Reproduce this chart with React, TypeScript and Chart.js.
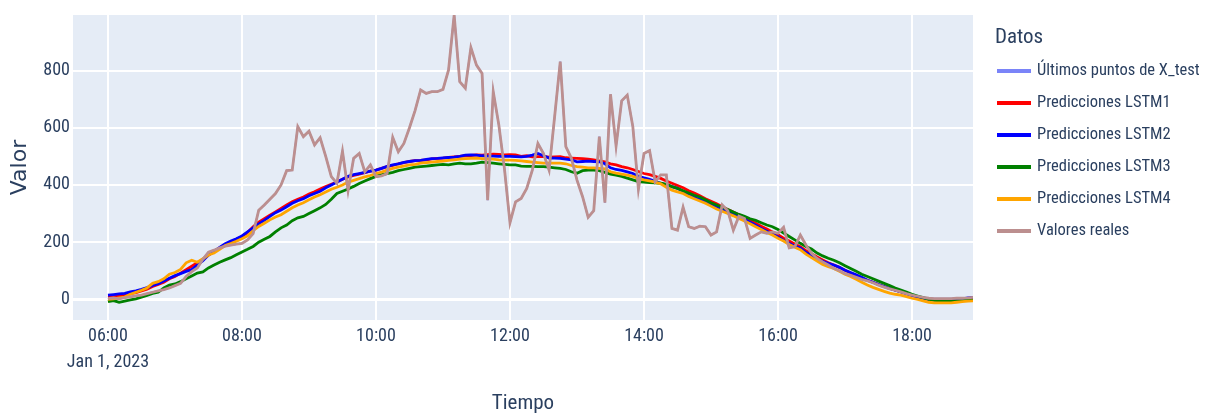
import React, { useEffect, useRef } from "react";
import { Chart, registerables } from "chart.js";

Chart.register(...registerables);

// Time axis: minutes after midnight, 5-minute samples starting 06:00 (Jan 1, 2023)
const startMinute = 360;
const stepMinutes = 5;

const realValues = [
  3, 5, 2, 6, 9, 12, 15, 20, 25, 30,
  34, 40, 48, 56, 80, 97, 110, 140, 165, 172,
  180, 186, 190, 193, 196, 208, 230, 312, 330, 350,
  370, 400, 450, 452, 604, 569, 588, 540, 565, 500,
  429, 406, 518, 380, 493, 510, 446, 470, 429, 432,
  440, 566, 516, 545, 600, 660, 732, 720, 726, 726,
  734, 802, 994, 761, 738, 880, 819, 790, 347, 726,
  610, 458, 268, 341, 353, 388, 452, 545, 510, 452,
  640, 831, 534, 493, 417, 359, 287, 310, 569, 338,
  717, 536, 694, 714, 604, 385, 510, 520, 411, 435,
  435, 248, 242, 322, 254, 248, 256, 254, 225, 236,
  330, 310, 242, 291, 283, 213, 225, 236, 231, 236,
  231, 252, 180, 184, 225, 190, 161, 143, 131, 120,
  108, 100, 90, 84, 77, 70, 65, 58, 50, 43,
  37, 32, 26, 20, 15, 11, 7, 4, 3, 3,
  3, 3, 4, 4, 5, 7,
];

const xTestValues = realValues;

const lstm1Values = [
  8, 10, 12, 14, 20, 24, 30, 36, 45, 52,
  60, 72, 80, 92, 104, 116, 128, 140, 155, 168,
  180, 190, 198, 210, 220, 234, 254, 270, 282, 294,
  306, 318, 330, 341, 350, 358, 368, 376, 386, 394,
  402, 410, 420, 428, 433, 438, 443, 448, 452, 458,
  464, 468, 474, 478, 482, 485, 486, 488, 491, 493,
  494, 496, 498, 500, 502, 503, 505, 504, 506, 508,
  507, 505, 506, 505, 500, 502, 498, 499, 500, 497,
  498, 499, 495, 494, 493, 492, 490, 488, 484, 481,
  474, 470, 464, 460, 454, 447, 440, 436, 430, 423,
  414, 406, 398, 390, 380, 372, 362, 352, 343, 334,
  324, 314, 305, 296, 286, 276, 266, 256, 246, 236,
  226, 214, 204, 194, 184, 170, 160, 148, 138, 128,
  120, 112, 102, 92, 84, 75, 67, 60, 52, 45,
  38, 32, 27, 20, 14, 9, 4, 0, -2, -2,
  -2, -2, -1, 1, 3, 5,
];

const lstm2Values = [
  15, 17, 19, 21, 26, 30, 35, 41, 49, 55,
  64, 74, 83, 90, 98, 104, 120, 135, 155, 168,
  182, 195, 204, 212, 222, 236, 250, 264, 276, 290,
  303, 312, 324, 336, 345, 352, 362, 370, 378, 390,
  400, 410, 420, 430, 436, 440, 444, 448, 452, 458,
  465, 470, 474, 479, 482, 485, 486, 489, 492, 493,
  495, 496, 497, 500, 504, 505, 504, 502, 501, 501,
  500, 500, 500, 499, 498, 500, 504, 510, 502, 494,
  494, 493, 490, 488, 481, 482, 483, 482, 481, 474,
  460, 454, 451, 446, 440, 430, 425, 420, 413, 406,
  400, 394, 388, 378, 368, 356, 350, 342, 334, 325,
  315, 306, 298, 289, 280, 270, 259, 248, 238, 228,
  218, 206, 196, 186, 180, 164, 154, 142, 133, 126,
  120, 112, 102, 94, 86, 77, 67, 60, 52, 45,
  38, 32, 26, 20, 14, 9, 4, 0, -2, -2,
  -2, -2, -1, 2, 5, 7,
];

const lstm3Values = [
  -8, -4, -10, -6, -2, 2, 8, 14, 21, 25,
  40, 50, 54, 62, 72, 82, 92, 96, 110, 120,
  130, 138, 146, 156, 166, 175, 185, 200, 210, 220,
  236, 250, 260, 275, 285, 290, 300, 310, 320, 332,
  350, 370, 378, 386, 395, 405, 414, 422, 430, 436,
  440, 444, 450, 454, 458, 462, 464, 466, 468, 470,
  472, 470, 474, 476, 474, 474, 476, 480, 478, 476,
  474, 472, 470, 470, 466, 465, 465, 464, 464, 462,
  460, 458, 454, 446, 441, 450, 452, 452, 450, 444,
  438, 434, 430, 424, 418, 412, 410, 408, 407, 406,
  402, 394, 388, 380, 372, 364, 358, 348, 338, 330,
  322, 314, 305, 297, 290, 282, 276, 268, 260, 254,
  244, 232, 220, 208, 196, 185, 176, 162, 152, 144,
  137, 128, 118, 108, 98, 88, 80, 72, 64, 56,
  48, 40, 33, 26, 18, 12, 6, 0, -3, -5,
  -5, -6, -5, -4, -3, -3,
];

const lstm4Values = [
  0, 2, 5, 8, 18, 25, 32, 40, 56, 62,
  72, 88, 94, 105, 128, 137, 130, 142, 155, 162,
  175, 188, 195, 203, 212, 222, 240, 255, 266, 278,
  288, 296, 308, 320, 330, 338, 348, 358, 366, 375,
  385, 392, 400, 410, 416, 422, 428, 433, 440, 445,
  452, 458, 462, 466, 470, 472, 476, 478, 480, 482,
  483, 486, 488, 490, 492, 493, 494, 492, 490, 490,
  488, 487, 487, 486, 484, 482, 480, 478, 476, 476,
  476, 476, 474, 468, 464, 462, 460, 460, 458, 456,
  446, 441, 438, 434, 430, 423, 418, 414, 410, 404,
  392, 382, 376, 370, 360, 352, 344, 336, 326, 316,
  308, 300, 292, 283, 274, 264, 254, 244, 234, 225,
  214, 204, 192, 182, 174, 158, 146, 134, 122, 114,
  108, 98, 88, 80, 70, 60, 50, 42, 35, 28,
  22, 18, 15, 10, 4, 0, -5, -10, -12, -12,
  -12, -12, -10, -8, -6, -5,
];

const seriesLabels = [
  "Últimos puntos de X_test",
  "Predicciones LSTM1",
  "Predicciones LSTM2",
  "Predicciones LSTM3",
  "Predicciones LSTM4",
  "Valores reales",
];
const seriesColors = ["#7a84f8", "#ff0000", "#0000ff", "#008000", "#ffa500", "#bc8f8f"];
const seriesWidths = [1.8, 2.8, 2.8, 2.8, 2.8, 2.8];

const xTickValues = [360, 480, 600, 720, 840, 960, 1080];
const xTickLabels = ["06:00", "08:00", "10:00", "12:00", "14:00", "16:00", "18:00"];
const dateLabel = "Jan 1, 2023";
const yTickValues = [0, 200, 400, 600, 800];

const xMin = 328.7;
const xMax = 1134.6;
const yMin = -72;
const yMax = 994;

const TEXT = "#2a3f5f";
const NARROW = "'Liberation Sans Narrow', 'Roboto Condensed', 'DejaVu Sans Condensed', sans-serif";

const bgPlugin = {
  id: "plotBg",
  beforeDraw(chart: any) {
    const { ctx, chartArea } = chart;
    ctx.save();
    ctx.fillStyle = "#e5ecf6";
    ctx.fillRect(chartArea.left, chartArea.top, chartArea.right - chartArea.left, chartArea.bottom - chartArea.top);
    ctx.restore();
  },
};

const legendPlugin = {
  id: "sideLegend",
  afterDraw(chart: any) {
    const { ctx } = chart;
    ctx.save();
    ctx.fillStyle = TEXT;
    ctx.textBaseline = "middle";
    ctx.textAlign = "left";
    ctx.font = `21px ${NARROW}`;
    ctx.fillText("Datos", 995, 38);
    ctx.font = `16.5px ${NARROW}`;
    chart.data.datasets.forEach((ds: any, i: number) => {
      const y = 71 + i * 32;
      ctx.strokeStyle = ds.borderColor;
      ctx.lineWidth = 4;
      ctx.beginPath();
      ctx.moveTo(997, y);
      ctx.lineTo(1031, y);
      ctx.stroke();
      ctx.fillStyle = TEXT;
      ctx.fillText(ds.label, 1037, y);
    });
    ctx.restore();
  },
};

const seriesValues = [xTestValues, lstm1Values, lstm2Values, lstm3Values, lstm4Values, realValues];
const drawOrder = [5, 4, 3, 2, 1, 0];

export default function App() {
  const canvasRef = useRef<HTMLCanvasElement | null>(null);

  useEffect(() => {
    if (!canvasRef.current) return;
    const datasets = seriesValues.map((vals, s) => ({
      label: seriesLabels[s],
      data: vals.map((v, i) => ({ x: startMinute + i * stepMinutes, y: v })),
      borderColor: seriesColors[s],
      backgroundColor: seriesColors[s],
      borderWidth: seriesWidths[s],
      pointRadius: 0,
      tension: 0,
      fill: false,
      order: drawOrder[s],
    }));

    const chart = new Chart(canvasRef.current, {
      type: "line",
      data: { datasets },
      plugins: [bgPlugin, legendPlugin],
      options: {
        responsive: false,
        animation: false,
        events: [],
        layout: { padding: { top: 15, right: 238, bottom: 0, left: 0 } },
        plugins: { legend: { display: false }, tooltip: { enabled: false } },
        scales: {
          x: {
            type: "linear",
            min: xMin,
            max: xMax,
            border: { display: false },
            grid: { color: "#ffffff", lineWidth: 2, drawTicks: false },
            afterBuildTicks: (axis: any) => {
              axis.ticks = xTickValues.map((v) => ({ value: v }));
            },
            afterFit: (scale: any) => {
              scale.height = 96;
            },
            ticks: {
              autoSkip: false,
              maxRotation: 0,
              padding: 3,
              color: TEXT,
              font: { family: NARROW, size: 18, lineHeight: 1.45 },
              callback: (value: any) => {
                const idx = xTickValues.indexOf(Number(value));
                if (idx < 0) return "";
                return idx === 0 ? [xTickLabels[idx], dateLabel] : xTickLabels[idx];
              },
            },
            title: {
              display: true,
              text: "Tiempo",
              color: TEXT,
              font: { family: NARROW, size: 21 },
              padding: { top: 0, bottom: 0 },
            },
          },
          y: {
            type: "linear",
            min: yMin,
            max: yMax,
            border: { display: false },
            grid: {
              color: "#ffffff",
              drawTicks: false,
              lineWidth: (c: any) => (c.tick && c.tick.value === 0 ? 3 : 2),
            },
            afterBuildTicks: (axis: any) => {
              axis.ticks = yTickValues.map((v) => ({ value: v }));
            },
            afterFit: (scale: any) => {
              scale.width = 73;
            },
            ticks: {
              padding: 3,
              color: TEXT,
              font: { family: NARROW, size: 18 },
              callback: (value: any) => String(value),
            },
            title: {
              display: true,
              text: "Valor",
              color: TEXT,
              font: { family: "'DejaVu Sans', sans-serif", size: 22 },
              padding: { top: 7, bottom: 0 },
            },
          },
        },
      },
    });
    return () => chart.destroy();
  }, []);

  return (
    <div style={{ position: "absolute", left: 0, top: 0, width: 1211, height: 416, background: "#ffffff" }}>
      <canvas ref={canvasRef} width={1211} height={416} style={{ display: "block" }} />
    </div>
  );
}
